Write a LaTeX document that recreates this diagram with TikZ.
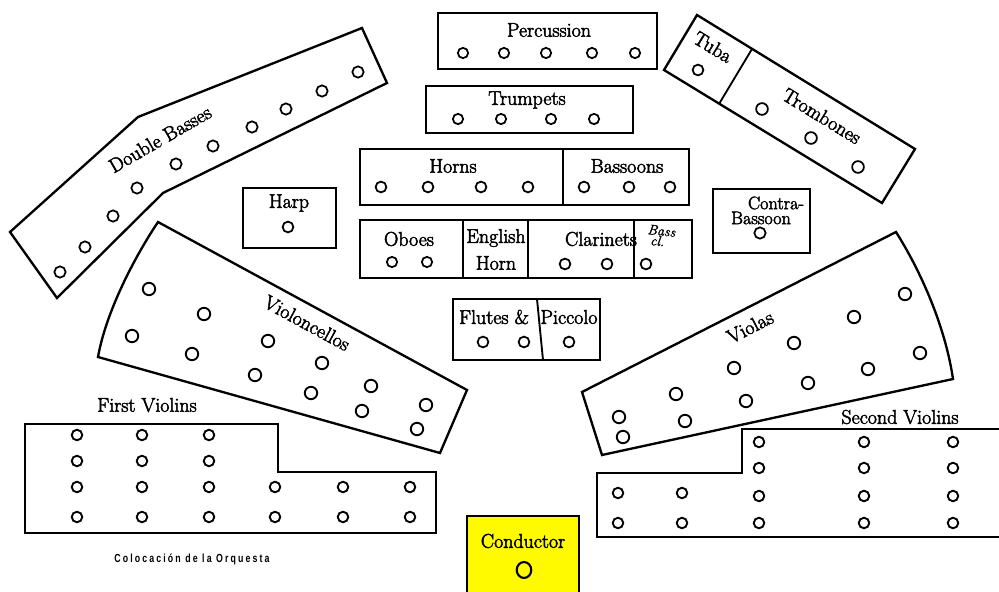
\documentclass[tikz,border=0pt]{standalone}
\usepackage{fontspec}
\newfontfamily\capfont[LetterSpace=18,FakeStretch=0.75]{Liberation Sans}
\newfontfamily\lblfam[FakeBold=2.5]{Latin Modern Roman}
\newfontfamily\handfam[FakeBold=1.5]{Latin Modern Roman}
\definecolor{condyellow}{RGB}{255,250,0}
\newcommand\lblfont{\lblfam\fontsize{17}{19}\selectfont}
\begin{document}
\begin{tikzpicture}[x=0.03cm,y=-0.03cm,
  part/.style={line width=2pt,line join=miter},
  divider/.style={line width=1.6pt},
  seat/.style={line width=1.5pt},
  bigseat/.style={line width=1.6pt},
  lbl/.style={font=\lblfont,inner sep=0pt}]
\useasboundingbox (0,0) rectangle (999,592);
\clip (0,0) rectangle (999,592);

% ---------- Percussion ----------
\draw[part] (438,13) rectangle (657,69);
\node[lbl] (perc) at (549,30) {Percussion};
\foreach \x in {463,504,546,592,635} \draw[seat] (\x,53) circle[radius=4.4pt];

% ---------- Trumpets ----------
\draw[part] (426,86) rectangle (633,133);
\node[lbl] (trp) at (527,100) {Trumpets};
\foreach \x in {458,501,551,594} \draw[seat] (\x,119) circle[radius=4.4pt];

% ---------- Horns / Bassoons ----------
\draw[part] (360,149) rectangle (689,205);
\draw[divider] (563,149) -- (563,205);
\node[lbl] (hrn) at (453,166) {Horns};
\node[lbl] (bsn) at (627,166) {Bassoons};
\foreach \x in {381,428,481,528,584,629,670} \draw[seat] (\x,187) circle[radius=4.6pt];

% ---------- Oboes / English Horn / Clarinets / Bass cl. ----------
\draw[part] (360,220) rectangle (692,278);
\draw[divider] (463,220) -- (463,278);
\draw[divider] (528,220) -- (528,278);
\draw[divider] (634,220) -- (634,278);
\node[lbl] (obo) at (409,239) {Oboes};
\foreach \x in {392,427} \draw[seat] (\x,262) circle[radius=4.4pt];
\node[lbl] (eng) at (496,238) {English};
\node[lbl] (ehn) at (496,263) {Horn};
\node[lbl] (cla) at (601,239) {Clarinets};
\foreach \x in {565,607,646} \draw[seat] (\x,264) circle[radius=4.6pt];
\node[font=\handfam\itshape\fontsize{12}{11}\selectfont,align=left,inner sep=0pt,rotate=-6] (bcl) at (661,236) {Bass\\[-2pt]\;cl.};

% ---------- Flutes & Piccolo ----------
\draw[part] (453,299) rectangle (600,360);
\draw[divider] (537,299) -- (543,360);
\node[lbl] (flt) at (494,317) {Flutes \&};
\node[lbl] (pic) at (569,317) {Piccolo};
\foreach \x in {483,524,569} \draw[seat] (\x,342) circle[radius=4.6pt];

% ---------- Harp ----------
\draw[part] (243,188) rectangle (336,248);
\node[lbl] (hrp) at (289,203) {Harp};
\draw[seat] (288,227) circle[radius=4.6pt];

% ---------- Contra-Bassoon ----------
\draw[part] (713,189) rectangle (810,253);
\node[lbl,font=\lblfam\fontsize{15.5}{17}\selectfont] (cbn1) at (776,203) {Contra-};
\node[lbl,font=\lblfam\fontsize{15.5}{17}\selectfont] (cbn2) at (761,218) {Bassoon};
\draw[seat] (760,233) circle[radius=4.8pt];

% ---------- Tuba / Trombones ----------
\draw[part] (697,15) -- (915,149) -- (882,203) -- (664,70) -- cycle;
\draw[divider] (752,49) -- (719,104);
\node[lbl,rotate=-31.5] (tba) at (713,47) {Tuba};
\draw[seat] (698,70) circle[radius=4.6pt];
\node[lbl,rotate=-31.5] (trb) at (822,116) {Trombones};
\foreach \x/\y in {762/109,811/138,858/167} \draw[seat] (\x,\y) circle[radius=5pt];

% ---------- Double Basses ----------
\draw[part] (10,232) -- (138,117) -- (362,28) -- (387,83) -- (163,193) -- (57,298) -- cycle;
\node[lbl,rotate=30] (dbs) at (160,139) {Double Basses};
\foreach \x/\y in {60/272,85/247,113/216,137/188,176/164,213/146,252/127,286/109,322/91,358/72}
  \draw[seat] (\x,\y) circle[radius=4.8pt];

% ---------- Violoncellos ----------
\draw[part] (158,222) -- (467,390) -- (440,453) -- (98,357) .. controls (106,312) and (134,258) .. cycle;
\node[lbl,rotate=-28.5] (vcl) at (307,323) {Violoncellos};
\foreach \x/\y in {149/289,204/314,132/336,192/354,268/341,255/375,322/363,311/393,371/386,362/411,426/405,417/429}
  \draw[bigseat] (\x,\y) circle[radius=5.3pt];

% ---------- Violas ----------
\draw[part] (582,392) -- (896,232) .. controls (920,270) and (945,325) .. (953,379) -- (602,455) -- cycle;
\node[lbl,rotate=27] (vla) at (750,327) {Violas};
\foreach \x/\y in {905/294,854/317,920/353,794/343,868/369,734/368,808/383,676/394,746/401,619/417,685/421,623/437}
  \draw[bigseat] (\x,\y) circle[radius=5.3pt];

% ---------- First Violins ----------
\draw[part] (25,424) -- (278,424) -- (278,472) -- (436,472) -- (436,533) -- (25,533) -- cycle;
\node[lbl] (vn1) at (147,405) {First Violins};
\foreach \x in {77,142,209} \foreach \y in {435,461,487,517} \draw[bigseat] (\x,\y) circle[radius=4.5pt];
\foreach \x in {275,343,410} \foreach \y in {487,517} \draw[bigseat] (\x,\y) circle[radius=4.5pt];

% ---------- Second Violins ----------
\draw[part] (597,473) -- (742,473) -- (742,429) -- (1010,429) -- (1010,537) -- (597,537) -- cycle;
\node[lbl] (vn2) at (900,417) {Second Violins};
\foreach \x in {759,864,953} \foreach \y in {442,468,496,523} \draw[bigseat] (\x,\y) circle[radius=4.5pt];
\foreach \x in {618,682} \foreach \y in {493,523} \draw[bigseat] (\x,\y) circle[radius=4.5pt];

% ---------- Conductor ----------
\draw[part,fill=condyellow] (467,516) rectangle (579,600);
\node[lbl] (cond) at (523,541) {Conductor};
\draw[line width=1.8pt] (524,570) ellipse[x radius=6.2pt,y radius=6.8pt];

% ---------- Caption ----------
\node[font=\capfont\bfseries\fontsize{10}{11}\selectfont,inner sep=0pt] (cap) at (192,559) {Colocación de la Orquesta};
\end{tikzpicture}
\end{document}
